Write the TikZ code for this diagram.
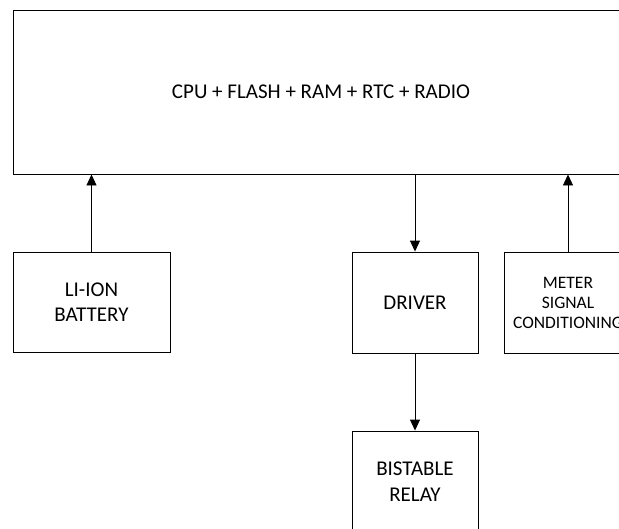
\documentclass[tikz,border=0pt]{standalone}
\usepackage{fontspec}
\setmainfont{Carlito}
\usepackage{tikz}
\usetikzlibrary{arrows.meta,positioning,calc}
\tikzset{
  >={Triangle[length=11pt,width=10pt]},
  % block
  blk/.style={draw=black,line width=0.9pt,fill=white,inner sep=0pt,
              align=center,font=\fontsize{21}{25.5}\selectfont},
  sblk/.style={blk,font=\fontsize{17.5}{20}\selectfont},
  link/.style={->,draw=black,line width=0.9pt},
}

\begin{document}
\begin{tikzpicture}[x=1pt,y=-1pt]
  \useasboundingbox (0,0) rectangle (619,528);
  \node[blk,minimum width=616pt,minimum height=164pt] (cpu) at (321,92) {CPU + FLASH + RAM + RTC + RADIO};
  \node[blk,minimum width=157pt,minimum height=100pt] (bat) at (91.5,302) {LI-ION\\BATTERY};
  \node[blk,minimum width=126pt,minimum height=101pt] (drv) at (415,302.5) {DRIVER};
  \node[sblk,minimum width=128pt,minimum height=101pt] (met) at (568,302.5) {METER\\SIGNAL\\CONDITIONING};
  \node[blk,minimum width=126pt,minimum height=101pt] (rly) at (415,481.5) {BISTABLE\\RELAY};
  \draw[link] (bat.north) -- (bat.north |- cpu.south);
  \draw[link] (cpu.south -| drv.north) -- (drv.north);
  \draw[link] (met.north) -- (met.north |- cpu.south);
  \draw[link] (drv.south) -- (rly.north);
\end{tikzpicture}
\end{document}
